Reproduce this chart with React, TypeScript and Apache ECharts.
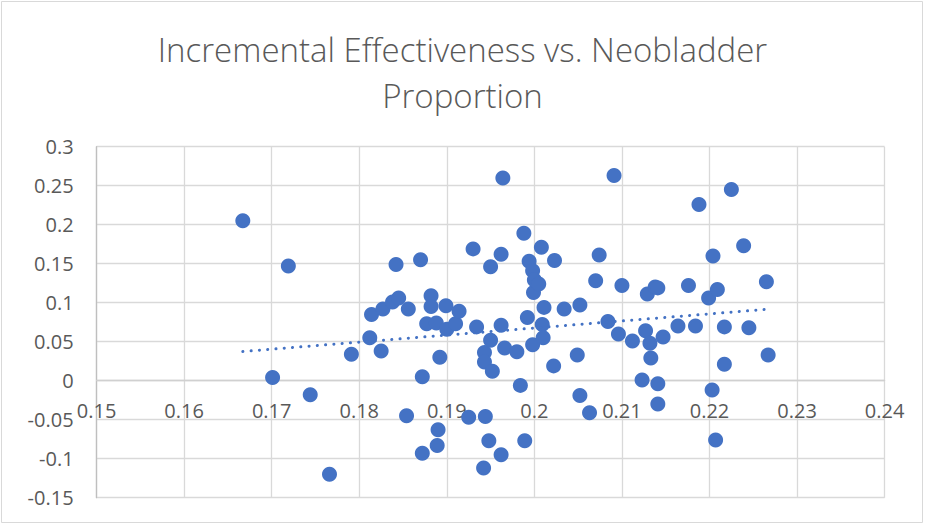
import React, { useEffect, useRef } from "react";
import * as echarts from "echarts";

const TITLE_LINES = ["Incremental Effectiveness vs. Neobladder", "Proportion"];

const X_MIN = 0.15;
const X_MAX = 0.24;
const X_STEP = 0.01;
const Y_MIN = -0.15;
const Y_MAX = 0.3;
const Y_STEP = 0.05;

// Neobladder proportion (x) and incremental effectiveness (y)
const neobladder = [
  0.1667, 0.1719, 0.1701, 0.1744, 0.1766, 0.1791, 0.1812, 0.1814, 0.1825, 0.1827,
  0.1838, 0.1842, 0.1845, 0.1854, 0.1856, 0.187, 0.1872, 0.1872, 0.1877, 0.1882,
  0.1882, 0.1888, 0.1889, 0.189, 0.1892, 0.1899, 0.19, 0.191, 0.1914, 0.1925,
  0.193, 0.1934, 0.1942, 0.1943, 0.1943, 0.1944, 0.1948, 0.195, 0.195, 0.1952,
  0.1962, 0.1962, 0.1962, 0.1964, 0.1966, 0.198, 0.1984, 0.1988, 0.1989, 0.1992,
  0.1994, 0.1998, 0.1998, 0.1999, 0.2, 0.2005, 0.2008, 0.2009, 0.201, 0.2011,
  0.2022, 0.2023, 0.2034, 0.2049, 0.2052, 0.2052, 0.2063, 0.207, 0.2074, 0.2084,
  0.2091, 0.2096, 0.21, 0.2112, 0.2123, 0.2127, 0.2129, 0.2132, 0.2133, 0.2138,
  0.2141, 0.2141, 0.2141, 0.2147, 0.2164, 0.2176, 0.2184, 0.2188, 0.2199, 0.2203,
  0.2204, 0.2207, 0.2209, 0.2217, 0.2217, 0.2225, 0.2239, 0.2245, 0.2265, 0.2267,
];

const effectiveness = [
  0.205, 0.147, 0.004, -0.018, -0.12, 0.034, 0.055, 0.085, 0.038, 0.092,
  0.101, 0.149, 0.106, -0.045, 0.092, 0.155, 0.005, -0.093, 0.073, 0.109,
  0.095, 0.074, -0.083, -0.063, 0.03, 0.096, 0.066, 0.073, 0.089, -0.047,
  0.169, 0.069, -0.112, 0.036, 0.024, -0.046, -0.077, 0.146, 0.052, 0.012,
  0.162, 0.071, -0.095, 0.26, 0.042, 0.037, -0.006, 0.189, -0.077, 0.081,
  0.153, 0.141, 0.046, 0.113, 0.129, 0.124, 0.171, 0.072, 0.055, 0.094,
  0.019, 0.154, 0.092, 0.033, 0.097, -0.019, -0.041, 0.128, 0.161, 0.076,
  0.263, 0.06, 0.122, 0.051, 0.001, 0.064, 0.111, 0.048, 0.029, 0.12,
  0.119, -0.004, -0.03, 0.056, 0.07, 0.122, 0.07, 0.226, 0.106, -0.012,
  0.16, -0.076, 0.117, 0.069, 0.021, 0.245, 0.173, 0.068, 0.127, 0.033,
];

function linearFit(xs: number[], ys: number[]) {
  const n = xs.length;
  let sx = 0, sy = 0, sxx = 0, sxy = 0;
  for (let i = 0; i < n; i++) {
    sx += xs[i];
    sy += ys[i];
    sxx += xs[i] * xs[i];
    sxy += xs[i] * ys[i];
  }
  const slope = (n * sxy - sx * sy) / (n * sxx - sx * sx);
  const intercept = (sy - slope * sx) / n;
  return { slope, intercept };
}

const W = 925;
const H = 525;
const GRID = { left: 96.6, right: 40.4, top: 146.7, bottom: 27.3 };

export default function App() {
  const ref = useRef<HTMLDivElement>(null);

  useEffect(() => {
    if (!ref.current) return;
    const chart = echarts.init(ref.current, null, { renderer: "svg" });
    const points = neobladder.map((x, i) => [x, effectiveness[i]]);
    const { slope, intercept } = linearFit(neobladder, effectiveness);
    const xLo = Math.min(...neobladder);
    const xHi = Math.max(...neobladder);
    const trend = [
      [xLo, intercept + slope * xLo],
      [xHi, intercept + slope * xHi],
    ];
    const textColor = "#595959";
    const font = "'Open Sans', sans-serif";
    // x axis crosses the y axis at 0, like the Excel original
    const gridHeight = H - GRID.top - GRID.bottom;
    const zeroOffset = ((0 - Y_MIN) / (Y_MAX - Y_MIN)) * gridHeight;

    chart.setOption({
      animation: false,
      backgroundColor: "#ffffff",
      title: {
        text: TITLE_LINES.join("\n"),
        left: "center",
        top: 21,
        textStyle: {
          color: textColor,
          fontFamily: font,
          fontWeight: 300,
          fontSize: 33,
          lineHeight: 46,
        },
      },
      graphic: [
        {
          type: "rect",
          shape: { x: 1.5, y: 1.5, width: 921, height: 521 },
          style: { fill: "none", stroke: "#d9d9d9", lineWidth: 1 },
          silent: true,
        },
      ],
      grid: {
        left: GRID.left,
        right: GRID.right,
        top: GRID.top,
        bottom: GRID.bottom,
        outerBoundsMode: "none",
      },
      xAxis: {
        type: "value",
        min: X_MIN,
        max: X_MAX,
        interval: X_STEP,
        position: "bottom",
        offset: -zeroOffset,
        axisLine: { onZero: false, lineStyle: { color: "#d0d0d0", width: 1.3 } },
        axisTick: { show: false },
        axisLabel: {
          color: textColor,
          fontFamily: font,
          fontSize: 20,
          margin: 20,
          showMinLabel: true,
          showMaxLabel: true,
        },
        splitLine: { show: true, lineStyle: { color: "#d9d9d9", width: 1.3 } },
      },
      yAxis: {
        type: "value",
        min: Y_MIN,
        max: Y_MAX,
        interval: Y_STEP,
        axisLine: { show: true, onZero: false, lineStyle: { color: "#bfbfbf", width: 1.3 } },
        axisTick: { show: false },
        axisLabel: {
          color: textColor,
          fontFamily: font,
          fontSize: 20,
          margin: 23,
        },
        splitLine: { show: true, lineStyle: { color: "#d9d9d9", width: 1.3 } },
      },
      series: [
        {
          type: "scatter",
          data: points,
          symbol: "circle",
          symbolSize: 15,
          itemStyle: { color: "#4472C4", opacity: 1 },
          z: 2,
        },
        {
          type: "line",
          data: trend,
          symbol: "none",
          z: 3,
          lineStyle: {
            color: "#4472C4",
            width: 3,
            type: [0.1, 8.2],
            cap: "round",
          },
        },
      ],
    });
    return () => chart.dispose();
  }, []);

  return (
    <div
      ref={ref}
      style={{ position: "fixed", left: 0, top: 0, width: W, height: H, background: "#fff" }}
    />
  );
}
